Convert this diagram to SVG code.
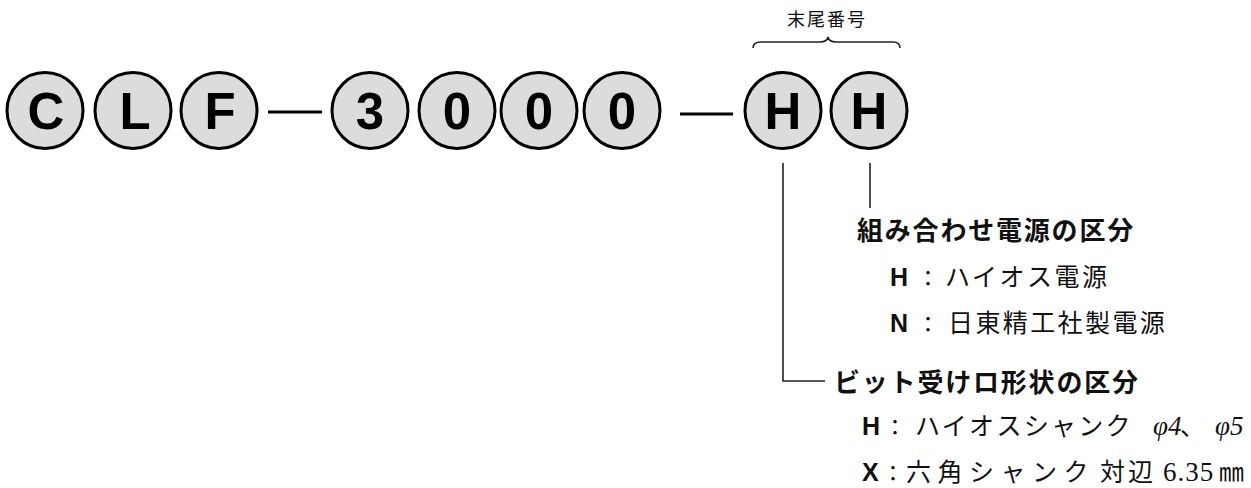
<svg xmlns="http://www.w3.org/2000/svg" width="1251" height="488" viewBox="0 0 1251 488">
  <style>
    .circ { fill: #dcdcdc; stroke: #000; stroke-width: 3; }
    .ch { font-family: "Liberation Sans", Arial, sans-serif; font-weight: bold; font-size: 51px; text-anchor: middle; fill: #000; }
    .dash { stroke: #000; stroke-width: 3; fill: none; }
    .conn { stroke: #222; stroke-width: 1.6; fill: none; }
    .head { font-family: "Noto Sans CJK JP", sans-serif; font-weight: bold; font-size: 26px; letter-spacing: 1.8px; fill: #111; }
    .key { font-family: "Liberation Sans", Arial, sans-serif; font-weight: bold; font-size: 25px; fill: #111; }
    .jp { font-family: "Noto Sans CJK JP", sans-serif; font-weight: normal; font-size: 25px; fill: #111; }
    .colon { font-family: "Noto Sans CJK JP", sans-serif; font-size: 22px; fill: #111; }
    .num { font-family: "Liberation Serif", "Times New Roman", serif; font-size: 27px; fill: #111; }
    .small { font-family: "Noto Sans CJK JP", sans-serif; font-size: 18px; letter-spacing: 2px; fill: #111; text-anchor: middle; }
  </style>

  <g id="code">
    <g id="node-C"><circle class="circ" cx="45" cy="110.5" r="38"/><text class="ch" x="46" y="129">C</text></g>
    <g id="node-L"><circle class="circ" cx="133" cy="110.5" r="38"/><text class="ch" x="135" y="129">L</text></g>
    <g id="node-F"><circle class="circ" cx="219" cy="110.5" r="38"/><text class="ch" x="220" y="129">F</text></g>
    <g id="node-3"><circle class="circ" cx="370" cy="110.5" r="38"/><text class="ch" x="370" y="129">3</text></g>
    <g id="node-0a"><circle class="circ" cx="457" cy="110.5" r="38"/><text class="ch" x="457" y="129">0</text></g>
    <g id="node-0b"><circle class="circ" cx="539" cy="110.5" r="38"/><text class="ch" x="539" y="129">0</text></g>
    <g id="node-0c"><circle class="circ" cx="622" cy="110.5" r="38"/><text class="ch" x="622" y="129">0</text></g>
    <g id="node-H1"><circle class="circ" cx="783" cy="110.5" r="38"/><text class="ch" x="783" y="129">H</text></g>
    <g id="node-H2"><circle class="circ" cx="869" cy="110.5" r="38"/><text class="ch" x="869" y="129">H</text></g>
  </g>

  <g id="connectors">
    <line class="dash" x1="268" y1="112" x2="322" y2="112"/>
    <line class="dash" x1="680" y1="114" x2="733" y2="114"/>
    <path class="conn" d="M753,48 Q753,42 761,42 L820,42 Q827,42 828,37 Q829,42 836,42 L893,42 Q900,42 900,48"/>
    <path class="conn" d="M783,163 L783,381 L825,381"/>
    <path class="conn" d="M870,163 L870,208"/>
  </g>

  <g id="label-suffix">
    <text class="small" x="827" y="26">末尾番号</text>
  </g>

  <g id="group-power">
    <text class="head" x="857" y="240">組み合わせ電源の区分</text>
    <text class="key" x="890" y="286">H</text>
    <text class="colon" x="917" y="286">：</text>
    <text class="jp" x="945" y="286" letter-spacing="2.5">ハイオス電源</text>
    <text class="key" x="890" y="332">N</text>
    <text class="colon" x="917" y="332">：</text>
    <text class="jp" x="948" y="332" letter-spacing="2.4">日東精工社製電源</text>
  </g>

  <g id="group-bit">
    <text class="head" x="834" y="392">ビット受けロ形状の区分</text>
    <text class="key" x="862" y="435">H</text>
    <text class="colon" x="884" y="435">：</text>
    <text class="jp" x="915" y="435" letter-spacing="2.3">ハイオスシャンク</text>
    <text class="num" x="1153" y="435" font-style="italic">φ4</text>
    <text class="jp" x="1180" y="435">、</text>
    <text class="num" x="1215" y="435" font-style="italic">φ5</text>
    <text class="key" x="862" y="481">X</text>
    <text class="colon" x="882" y="481">：</text>
    <text class="jp" x="906" y="481" letter-spacing="6.5">六角シャンク</text>
    <text class="jp" x="1100" y="481" letter-spacing="3">対辺</text>
    <text class="num" x="1163" y="481" letter-spacing="1">6.35</text>
    <text class="jp" x="1219" y="481" font-size="26">㎜</text>
  </g>
</svg>
